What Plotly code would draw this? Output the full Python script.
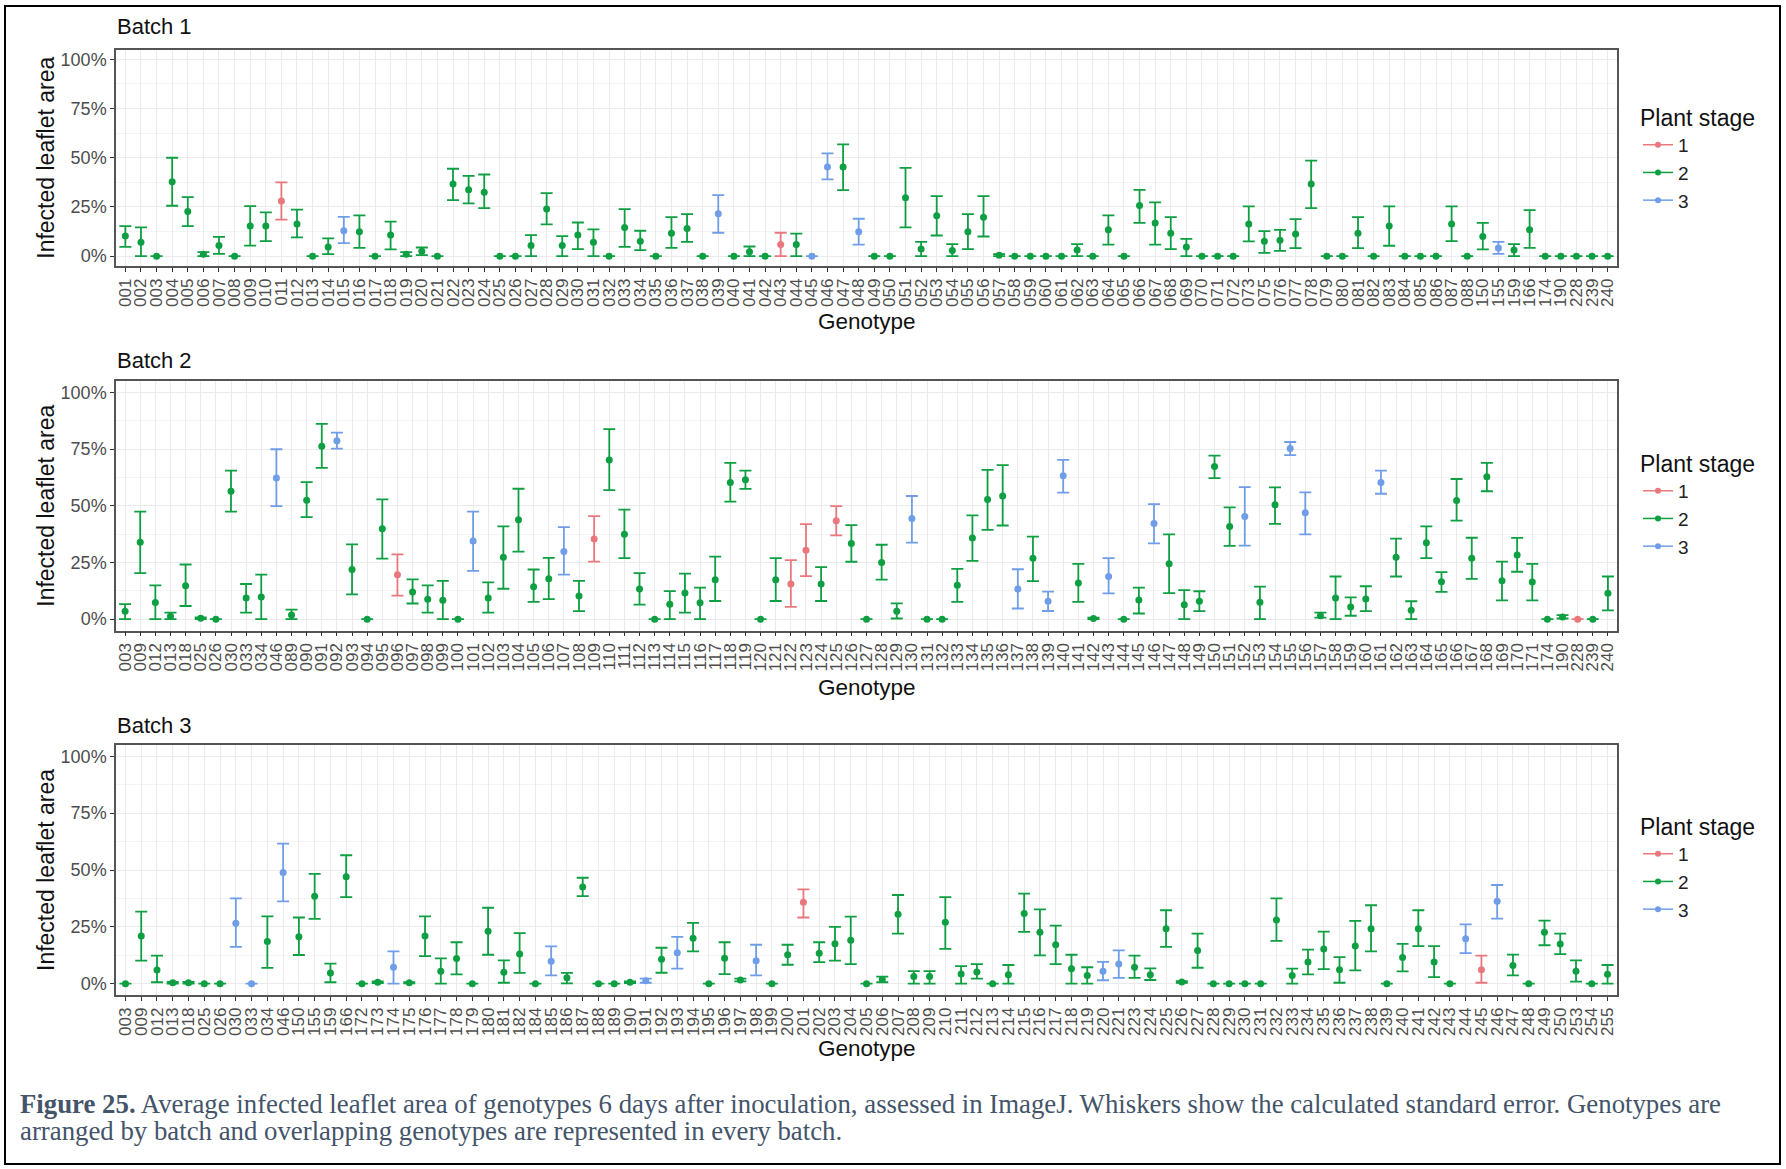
import plotly.graph_objects as go

W, H = 1786, 1169

# ---------------- Batch 1 ----------------
b1_genotype = [
    "001", "002", "003", "004", "005", "006", "007", "008", "009", "010",
    "011", "012", "013", "014", "015", "016", "017", "018", "019", "020",
    "021", "022", "023", "024", "025", "026", "027", "028", "029", "030",
    "031", "032", "033", "034", "035", "036", "037", "038", "039", "040",
    "041", "042", "043", "044", "045", "046", "047", "048", "049", "050",
    "051", "052", "053", "054", "055", "056", "057", "058", "059", "060",
    "061", "062", "063", "064", "065", "066", "067", "068", "069", "070",
    "071", "072", "073", "075", "076", "077", "078", "079", "080", "081",
    "082", "083", "084", "085", "086", "087", "088", "150", "155", "159",
    "166", "174", "190", "228", "239", "240"]
b1_stage = [
    2, 2, 2, 2, 2, 2, 2, 2, 2, 2,
    1, 2, 2, 2, 3, 2, 2, 2, 2, 2,
    2, 2, 2, 2, 2, 2, 2, 2, 2, 2,
    2, 2, 2, 2, 2, 2, 2, 2, 3, 2,
    2, 2, 1, 2, 3, 3, 2, 3, 2, 2,
    2, 2, 2, 2, 2, 2, 2, 2, 2, 2,
    2, 2, 2, 2, 2, 2, 2, 2, 2, 2,
    2, 2, 2, 2, 2, 2, 2, 2, 2, 2,
    2, 2, 2, 2, 2, 2, 2, 2, 3, 2,
    2, 2, 2, 2, 2, 2]
b1_mean = [
    10.2, 7.1, 0, 37.8, 22.7, 1.0, 5.4, 0, 15.3, 15.3,
    28.0, 16.4, 0, 4.7, 12.9, 12.4, 0, 10.7, 1.0, 2.5,
    0, 36.6, 33.7, 32.5, 0, 0, 5.4, 23.9, 5.4, 10.7,
    7.1, 0, 14.6, 7.6, 0, 11.7, 14.1, 0, 21.5, 0,
    2.2, 0, 5.9, 5.9, 0, 45.3, 45.3, 12.4, 0, 0,
    29.7, 3.6, 20.5, 2.9, 12.4, 19.8, 0.5, 0, 0, 0,
    0, 3.1, 0, 13.4, 0, 25.8, 16.9, 11.7, 4.7, 0,
    0, 0, 16.3, 7.6, 8.1, 11.2, 36.6, 0, 0, 11.7,
    0, 15.3, 0, 0, 0, 16.3, 0, 10.0, 4.2, 3.1,
    13.4, 0, 0, 0, 0, 0]
b1_low = [
    4.7, 0, 0, 25.6, 15.3, 0, 1.2, 0, 5.4, 7.6,
    18.6, 9.5, 0, 1.0, 6.6, 4.2, 0, 3.4, 0, 0.5,
    0, 28.5, 26.8, 24.4, 0, 0, 0, 16.1, 0, 3.6,
    0, 0, 4.7, 3.1, 0, 4.2, 7.3, 0, 11.9, 0,
    0, 0, 0, 0, 0, 39.0, 33.6, 5.9, 0, 0,
    14.6, 0, 10.5, 0, 3.6, 10.0, 0, 0, 0, 0,
    0, 0, 0, 5.9, 0, 16.9, 5.9, 3.6, 0, 0,
    0, 0, 7.5, 1.7, 2.7, 4.1, 24.4, 0, 0, 4.1,
    0, 5.3, 0, 0, 0, 7.6, 0, 3.4, 1.2, 0,
    4.2, 0, 0, 0, 0, 0]
b1_high = [
    15.3, 14.6, 0, 50.0, 30.0, 2.0, 9.8, 0, 25.4, 22.2,
    37.5, 23.6, 0, 9.0, 20.0, 20.7, 0, 17.5, 2.0, 4.4,
    0, 44.4, 40.8, 41.5, 0, 0, 10.7, 32.0, 10.2, 17.1,
    13.6, 0, 23.9, 12.9, 0, 19.8, 21.4, 0, 31.0, 0,
    4.9, 0, 11.9, 11.4, 0, 52.2, 56.8, 19.0, 0, 0,
    44.9, 7.3, 30.5, 6.1, 21.4, 30.5, 1.0, 0, 0, 0,
    0, 6.1, 0, 20.7, 0, 33.7, 27.3, 19.8, 8.8, 0,
    0, 0, 25.3, 12.7, 13.4, 18.8, 48.5, 0, 0, 19.8,
    0, 25.3, 0, 0, 0, 25.3, 0, 16.9, 7.3, 6.1,
    23.4, 0, 0, 0, 0, 0]

# ---------------- Batch 2 ----------------
b2_genotype = [
    "003", "009", "012", "013", "018", "025", "026", "030", "033", "034",
    "046", "089", "090", "091", "092", "093", "094", "095", "096", "097",
    "098", "099", "100", "101", "102", "103", "104", "105", "106", "107",
    "108", "109", "110", "111", "112", "113", "114", "115", "116", "117",
    "118", "119", "120", "121", "122", "123", "124", "125", "126", "127",
    "128", "129", "130", "131", "132", "133", "134", "135", "136", "137",
    "138", "139", "140", "141", "142", "143", "144", "145", "146", "147",
    "148", "149", "150", "151", "152", "153", "154", "155", "156", "157",
    "158", "159", "160", "161", "162", "163", "164", "165", "166", "167",
    "168", "169", "170", "171", "174", "190", "228", "239", "240"]
b2_stage = [
    2, 2, 2, 2, 2, 2, 2, 2, 2, 2,
    3, 2, 2, 2, 3, 2, 2, 2, 1, 2,
    2, 2, 2, 3, 2, 2, 2, 2, 2, 3,
    2, 1, 2, 2, 2, 2, 2, 2, 2, 2,
    2, 2, 2, 2, 1, 1, 2, 1, 2, 2,
    2, 2, 3, 2, 2, 2, 2, 2, 2, 3,
    2, 3, 3, 2, 2, 3, 2, 2, 3, 2,
    2, 2, 2, 2, 3, 2, 2, 3, 3, 2,
    2, 2, 2, 3, 2, 2, 2, 2, 2, 2,
    2, 2, 2, 2, 2, 2, 1, 2, 2]
b2_mean = [
    3.5, 33.9, 7.3, 1.3, 14.7, 0.4, 0, 56.4, 9.3, 9.8,
    62.2, 1.8, 52.4, 76.2, 78.7, 21.9, 0, 39.9, 19.6, 12.0,
    8.8, 8.3, 0, 34.5, 9.3, 27.3, 43.8, 14.3, 17.8, 29.8,
    10.2, 35.3, 70.2, 37.4, 13.3, 0, 6.6, 11.5, 7.2, 17.4,
    60.3, 61.5, 0, 17.4, 15.5, 30.4, 15.5, 43.4, 33.4, 0,
    25.0, 3.5, 44.4, 0, 0, 14.9, 35.8, 52.8, 54.3, 13.3,
    26.9, 7.9, 63.2, 15.9, 0.3, 18.8, 0, 8.5, 42.2, 24.4,
    6.4, 7.9, 67.3, 40.9, 45.3, 7.4, 50.4, 75.2, 46.9, 1.5,
    9.3, 5.4, 8.9, 60.3, 27.3, 3.9, 33.7, 16.5, 52.3, 26.9,
    62.8, 16.9, 28.3, 16.4, 0, 1.0, 0, 0, 11.4]
b2_low = [
    0, 20.3, 0, 0, 5.8, 0, 0, 47.4, 2.9, 0,
    49.8, 0, 45.0, 66.7, 75.2, 10.9, 0, 26.7, 10.4, 6.9,
    2.9, 0, 0, 21.3, 2.9, 13.4, 29.8, 7.6, 8.8, 19.6,
    3.5, 25.4, 56.9, 26.9, 6.4, 0, 0, 2.9, 0, 8.0,
    51.8, 57.4, 0, 8.0, 5.4, 19.0, 8.0, 36.9, 25.3, 0,
    17.4, 0.3, 33.7, 0, 0, 7.6, 25.7, 39.4, 41.3, 4.7,
    16.8, 3.6, 55.8, 7.6, 0, 11.4, 0, 2.5, 33.4, 11.5,
    0, 3.5, 62.2, 32.3, 32.4, 0, 42.0, 72.3, 37.4, 0.7,
    0, 1.5, 3.5, 55.3, 18.8, 0, 26.9, 12.0, 43.4, 17.8,
    56.4, 8.3, 20.9, 8.3, 0, 0.3, 0, 0, 3.9]
b2_high = [
    6.6, 47.4, 14.9, 2.9, 24.1, 0.8, 0, 65.5, 15.5, 19.6,
    74.9, 4.2, 60.4, 86.1, 82.2, 33.0, 0, 52.8, 28.6, 17.5,
    14.9, 16.9, 0, 47.4, 16.2, 40.9, 57.5, 21.9, 27.0, 40.6,
    16.9, 45.4, 83.8, 48.3, 20.3, 0, 12.4, 20.1, 13.9, 27.6,
    68.9, 65.5, 0, 26.9, 26.0, 41.9, 22.9, 49.8, 41.5, 0,
    32.8, 7.0, 54.3, 0, 0, 22.2, 45.8, 65.8, 67.9, 22.0,
    36.4, 12.1, 70.2, 24.4, 0.7, 26.9, 0, 13.9, 50.7, 37.4,
    12.8, 12.3, 72.1, 49.3, 58.2, 14.3, 58.1, 78.1, 55.9, 2.9,
    18.8, 9.6, 14.5, 65.5, 35.5, 7.9, 40.9, 20.7, 61.8, 35.9,
    68.9, 25.4, 35.8, 24.4, 0, 1.8, 0, 0, 18.8]

# ---------------- Batch 3 ----------------
b3_genotype = [
    "003", "009", "012", "013", "018", "025", "026", "030", "033", "034",
    "046", "150", "155", "159", "166", "172", "173", "174", "175", "176",
    "177", "178", "179", "180", "181", "182", "184", "185", "186", "187",
    "188", "189", "190", "191", "192", "193", "194", "195", "196", "197",
    "198", "199", "200", "201", "202", "203", "204", "205", "206", "207",
    "208", "209", "210", "211", "212", "213", "214", "215", "216", "217",
    "218", "219", "220", "221", "223", "224", "225", "226", "227", "228",
    "229", "230", "231", "232", "233", "234", "235", "236", "237", "238",
    "239", "240", "241", "242", "243", "244", "245", "246", "247", "248",
    "249", "250", "253", "254", "255"]
b3_stage = [
    2, 2, 2, 2, 2, 2, 2, 3, 3, 2,
    3, 2, 2, 2, 2, 2, 2, 3, 2, 2,
    2, 2, 2, 2, 2, 2, 2, 3, 2, 2,
    2, 2, 2, 3, 2, 3, 2, 2, 2, 2,
    3, 2, 2, 1, 2, 2, 2, 2, 2, 2,
    2, 2, 2, 2, 2, 2, 2, 2, 2, 2,
    2, 2, 3, 3, 2, 2, 2, 2, 2, 2,
    2, 2, 2, 2, 2, 2, 2, 2, 2, 2,
    2, 2, 2, 2, 2, 3, 1, 3, 2, 2,
    2, 2, 2, 2, 2]
b3_mean = [
    0, 21.0, 6.0, 0.4, 0.4, 0, 0, 26.6, 0, 18.5,
    48.9, 20.6, 38.5, 4.7, 47.0, 0, 0.6, 7.2, 0.4, 21.0,
    5.5, 11.1, 0, 23.1, 5.0, 13.0, 0, 9.9, 2.6, 42.5,
    0, 0, 0.6, 1.3, 10.7, 13.6, 20.0, 0, 11.2, 1.6,
    10.1, 0, 12.7, 35.8, 13.4, 17.5, 19.1, 0, 1.8, 30.5,
    3.1, 3.1, 27.0, 4.2, 5.1, 0, 3.9, 30.9, 22.6, 17.1,
    6.6, 3.6, 5.4, 8.6, 7.2, 3.9, 24.1, 0.7, 14.6, 0,
    0, 0, 0, 28.0, 3.6, 9.5, 15.2, 6.1, 16.6, 24.1,
    0, 11.5, 24.1, 9.5, 0, 19.7, 6.1, 36.2, 8.0, 0,
    22.6, 17.4, 5.5, 0, 4.1]
b3_low = [
    0, 10.1, 0.6, 0, 0, 0, 0, 16.2, 0, 6.9,
    36.2, 12.6, 28.5, 0.6, 38.1, 0, 0.2, 0, 0.1, 12.1,
    0, 4.1, 0, 12.7, 0.4, 4.7, 0, 3.6, 0.1, 38.5,
    0, 0, 0.2, 0.4, 4.8, 6.6, 14.2, 0, 4.2, 1.0,
    3.6, 0, 8.3, 29.1, 9.5, 10.1, 8.6, 0, 0.6, 22.0,
    0, 0, 15.3, 0, 2.2, 0, 0, 22.8, 12.4, 8.6,
    0, 0, 1.5, 2.5, 2.5, 1.6, 16.2, 0.4, 7.0, 0,
    0, 0, 0, 18.8, 0, 4.1, 6.4, 0.4, 5.8, 14.2,
    0, 5.4, 16.5, 2.9, 0, 13.4, 0.4, 28.6, 3.6, 0,
    16.9, 13.0, 0.9, 0, 0]
b3_high = [
    0, 31.7, 12.3, 0.8, 0.8, 0, 0, 37.5, 0, 29.6,
    61.6, 29.1, 48.3, 8.8, 56.5, 0, 1.0, 14.2, 0.7, 29.6,
    11.1, 18.2, 0, 33.4, 10.2, 22.2, 0, 16.4, 4.7, 46.6,
    0, 0, 1.0, 2.2, 15.8, 20.6, 26.7, 0, 18.2, 2.2,
    17.1, 0, 17.1, 41.5, 18.2, 25.0, 29.5, 0, 3.1, 39.0,
    5.5, 5.5, 38.1, 7.7, 8.6, 0, 8.2, 39.6, 32.7, 25.5,
    12.7, 7.2, 9.6, 14.6, 12.3, 6.7, 32.3, 1.1, 22.0, 0,
    0, 0, 0, 37.5, 6.6, 15.0, 22.9, 11.7, 27.6, 34.5,
    0, 17.5, 32.3, 16.5, 0, 26.1, 12.3, 43.4, 12.8, 0,
    27.7, 22.0, 10.2, 0, 8.2]

batch_titles = ["Batch 1", "Batch 2", "Batch 3"]
stage_labels = ["1", "2", "3"]
y_tick_values = [0, 25, 50, 75, 100]
y_tick_labels = ["0%", "25%", "50%", "75%", "100%"]

# ---------------- styling / layout helpers ----------------
stage_colors = {1: "#E8787D", 2: "#0E9F42", 3: "#6F9DE8"}
SANS = "Liberation Sans, Arial, sans-serif"
SERIF = "Liberation Serif, Times New Roman, serif"


def px_y(p):
    return 1 - p / H


def px_x(p):
    return p / W


panel_x = (116, 1617)
panel_y = [(49.5, 266), (381, 630.5), (745, 995)]   # top, bottom in px
xtitle_y = [322, 687, 1048]
title_y = [27, 360, 725]
legend_top = [96, 442, 805]

batches = [
    (b1_genotype, b1_stage, b1_mean, b1_low, b1_high),
    (b2_genotype, b2_stage, b2_mean, b2_low, b2_high),
    (b3_genotype, b3_stage, b3_mean, b3_low, b3_high),
]

fig = go.Figure()
annotations = []

for bi, (gen, stg, mean, low, high) in enumerate(batches):
    sfx = "" if bi == 0 else str(bi + 1)
    xa, ya = "x" + sfx, "y" + sfx
    leg = "legend" + sfx
    for s in (1, 2, 3):
        idx = [i for i in range(len(gen)) if stg[i] == s]
        if not idx:
            continue
        fig.add_trace(go.Scatter(
            x=[gen[i] for i in idx],
            y=[mean[i] for i in idx],
            mode="markers",
            marker=dict(color=stage_colors[s], size=7),
            error_y=dict(type="data", symmetric=False,
                         array=[round(high[i] - mean[i], 2) for i in idx],
                         arrayminus=[round(mean[i] - low[i], 2) for i in idx],
                         color=stage_colors[s], thickness=1.8, width=6),
            xaxis=xa, yaxis=ya, showlegend=False, hoverinfo="x+y"))
    for s in (1, 2, 3):
        fig.add_trace(go.Scatter(
            x=[None], y=[None], mode="lines+markers", name=stage_labels[s - 1],
            line=dict(color=stage_colors[s], width=1.5),
            marker=dict(color=stage_colors[s], size=6),
            xaxis=xa, yaxis=ya, legend=leg,
            showlegend=True))

    top, bot = panel_y[bi]
    xaxis = dict(
        type="category", categoryorder="array", categoryarray=gen,
        range=[-0.6, len(gen) - 0.4],
        tickmode="array", tickvals=gen, ticktext=gen, tickangle=-90,
        tickfont=dict(family=SANS, size=17, color="#4d4d4d"),
        showgrid=True, gridcolor="#EBEBEB", gridwidth=1,
        ticks="outside", ticklen=4, tickcolor="#333333", tickwidth=1,
        showline=True, linecolor="#555555", linewidth=1.5, mirror=True,
        zeroline=False, domain=[px_x(panel_x[0]), px_x(panel_x[1])], anchor=ya)
    yaxis = dict(
        range=[-5, 105], tickmode="array", tickvals=y_tick_values, ticktext=y_tick_labels,
        tickfont=dict(family=SANS, size=18, color="#4d4d4d"),
        showgrid=True, gridcolor="#EBEBEB", gridwidth=1,
        minor=dict(tickvals=[12.5, 37.5, 62.5, 87.5], showgrid=True,
                   gridcolor="#F4F4F4", ticks=""),
        ticks="outside", ticklen=4, tickcolor="#333333", tickwidth=1,
        showline=True, linecolor="#555555", linewidth=1.5, mirror=True,
        zeroline=False, domain=[px_y(bot), px_y(top)], anchor=xa)
    fig.update_layout(**{"xaxis" + sfx: xaxis, "yaxis" + sfx: yaxis})

    fig.update_layout(**{leg: dict(
        x=px_x(1638), y=px_y(legend_top[bi]), xanchor="left", yanchor="top",
        title=dict(text="Plant stage", font=dict(family=SANS, size=23, color="#111111")),
        font=dict(family=SANS, size=19, color="#222222"),
        bgcolor="rgba(0,0,0,0)", tracegroupgap=0, itemwidth=30)})

    annotations.append(dict(
        text=batch_titles[bi], x=px_x(115), y=px_y(title_y[bi]), xref="paper", yref="paper",
        xanchor="left", yanchor="middle", showarrow=False,
        font=dict(family=SANS, size=22, color="#111111")))
    annotations.append(dict(
        text="Infected leaflet area", x=px_x(46), y=px_y((top + bot) / 2),
        xref="paper", yref="paper", xanchor="center", yanchor="middle",
        textangle=-90, showarrow=False, font=dict(family=SANS, size=23, color="#111111")))
    annotations.append(dict(
        text="Genotype", x=px_x((panel_x[0] + panel_x[1]) / 2), y=px_y(xtitle_y[bi]),
        xref="paper", yref="paper", xanchor="center", yanchor="middle",
        showarrow=False, font=dict(family=SANS, size=22.5, color="#111111")))

caption_lines = [
    "<b>Figure 25.</b> Average infected leaflet area of genotypes 6 days after inoculation, "
    "assessed in ImageJ. Whiskers show the calculated standard error. Genotypes are",
    "arranged by batch and overlapping genotypes are represented in every batch.",
]
for li, (txt, yy) in enumerate(zip(caption_lines, [1104, 1131])):
    annotations.append(dict(
        text=txt, x=px_x(18), y=px_y(yy), xref="paper", yref="paper",
        xanchor="left", yanchor="middle", showarrow=False,
        font=dict(family=SERIF, size=26.8, color="#44546A")))

fig.update_layout(
    width=W, height=H, margin=dict(l=0, r=0, t=0, b=0),
    paper_bgcolor="white", plot_bgcolor="white",
    annotations=annotations,
    shapes=[dict(type="rect", xref="paper", yref="paper",
                 x0=px_x(5), x1=px_x(1780), y0=px_y(1164), y1=px_y(6),
                 line=dict(color="black", width=2), fillcolor="rgba(0,0,0,0)")],
)

fig.write_html("out.html")
